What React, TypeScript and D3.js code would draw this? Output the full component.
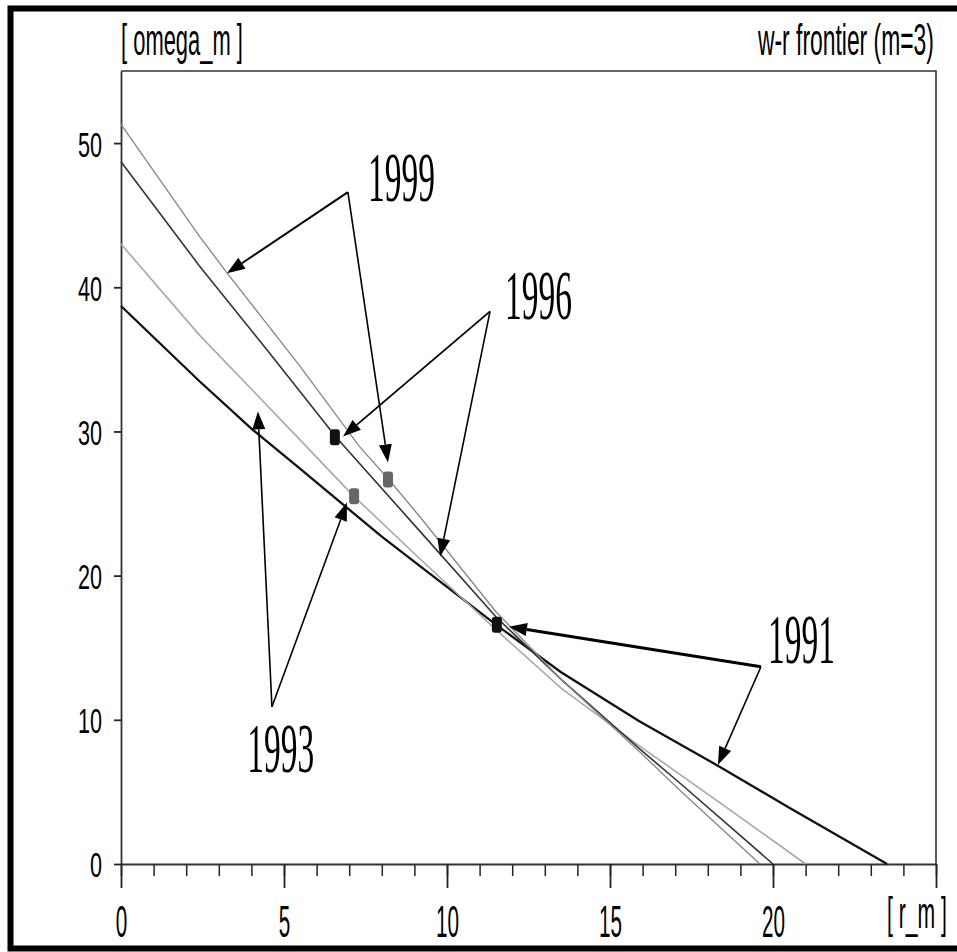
import React, { useRef, useEffect } from "react";
import * as d3 from "d3";

// axis ticks
const rTicks = [0, 5, 10, 15, 20, 25];
const rMinorTicks = d3.range(0, 26, 1);
const omegaTicks = [0, 10, 20, 30, 40, 50];

// frontier curves, one per year
const years = ["1991", "1993", "1996", "1999"];
const r1991 = [0, 2.4, 4.05, 5.5, 8, 11.5, 13.5, 15.9, 18.4, 20.5, 23.5];
const omega1991 = [38.7, 33.5, 30.1, 27.4, 22.7, 16.6, 13.3, 9.9, 6.7, 3.9, 0];
const r1993 = [0, 2.4, 5.5, 7.1, 9.2, 11.5, 13.5, 15.9, 18.4, 21.0];
const omega1993 = [43.0, 36.7, 29.4, 25.6, 21.1, 16.25, 12.2, 8.2, 4.2, 0];
const r1996 = [0, 2.4, 4.5, 6.6, 9.2, 11.5, 13.5, 15.9, 17.15, 20.0];
const omega1996 = [48.7, 41.5, 35.6, 29.6, 23.0, 17.15, 12.8, 8.0, 5.6, 0];
const r1999 = [0, 2.42, 3.25, 5.5, 7.3, 8.2, 9.2, 11.5, 13.5, 15.9, 17.15, 19.6];
const omega1999 = [51.3, 43.5, 41.0, 34.5, 29.0, 26.7, 24.0, 17.5, 12.8, 7.8, 5.1, 0];

// the point marked on each curve
const markerR = [11.53, 7.15, 6.56, 8.19];
const markerOmega = [16.6, 25.5, 29.6, 26.67];

// year callouts: text, elbow of the two arrows, arrow tips
const labelR = [19.85, 3.87, 11.78, 7.58];
const labelOmega = [13.96, 6.39, 37.78, 45.97];
const elbowR = [19.63, 4.63, 11.32, 6.96];
const elbowOmega = [13.68, 10.9, 38.33, 46.6];
const tipR = [[11.9, 18.31], [4.2, 6.93], [6.81, 9.79], [3.25, 8.19]];
const tipOmega = [[16.46, 6.875], [31.39, 25.07], [29.65, 21.32], [40.97, 27.85]];

export default function App() {
  const svgRef = useRef<SVGSVGElement>(null);

  useEffect(() => {
    const svg = d3.select(svgRef.current);
    svg.selectAll("*").remove();

    const width = 957;
    const height = 952;
    const margin = { top: 71, right: 21, bottom: 88, left: 121 };

    const x = d3.scaleLinear().domain([0, 25]).range([margin.left, width - margin.right]);
    const y = d3.scaleLinear().domain([0, 55]).range([height - margin.bottom, margin.top]);

    const sans = "'Liberation Sans', Arial, sans-serif";
    const serif = "'Liberation Serif', 'Times New Roman', serif";

    // squeezed text: measure, then scale to the wanted width
    function narrowText(str: string, left: number, base: number, w: number, size: number, family: string) {
      const t = svg.append("text")
        .attr("font-family", family).attr("font-size", size)
        .attr("fill", "black")
        .text(str);
      const natural = (t.node() as SVGTextElement).getComputedTextLength();
      t.attr("transform", `translate(${left},${base}) scale(${w / natural},1)`);
      return t;
    }

    // outer frame
    svg.append("rect")
      .attr("x", 10.5).attr("y", 8.5)
      .attr("width", 952).attr("height", 940)
      .attr("fill", "white").attr("stroke", "black").attr("stroke-width", 6);

    // plot box top + right
    svg.append("path")
      .attr("d", `M${x(0)},${y(55)}H${x(25)}V${y(0)}`)
      .attr("fill", "none").attr("stroke", "#333").attr("stroke-width", 1.6);

    // minor x ticks
    const xMinor = svg.append("g")
      .attr("transform", `translate(0,${y(0)})`)
      .call(d3.axisBottom(x).tickValues(rMinorTicks).tickSize(12).tickSizeOuter(0).tickFormat(() => ""));
    xMinor.select(".domain").remove();
    xMinor.selectAll("line").attr("stroke", "#222").attr("stroke-width", 1.5);

    // major x ticks
    const xAxis = svg.append("g")
      .attr("transform", `translate(0,${y(0)})`)
      .call(d3.axisBottom(x).tickValues(rTicks).tickSize(24).tickSizeOuter(0)
        .tickFormat((d) => (d === 25 ? "" : String(d))));
    xAxis.select(".domain").attr("stroke", "#333").attr("stroke-width", 1.8);
    xAxis.selectAll("line").attr("stroke", "#222").attr("stroke-width", 1.8);
    xAxis.selectAll("text")
      .attr("y", 73).attr("dy", 0)
      .attr("transform", "scale(0.47,1)")
      .attr("font-family", sans).attr("font-size", 44).attr("fill", "black");

    // y axis
    const yAxis = svg.append("g")
      .attr("transform", `translate(${x(0)},0)`)
      .call(d3.axisLeft(y).tickValues(omegaTicks).tickSize(7).tickSizeOuter(0));
    yAxis.select(".domain").attr("stroke", "#333").attr("stroke-width", 1.8);
    yAxis.selectAll("line").attr("stroke", "#222").attr("stroke-width", 1.8);
    yAxis.selectAll("text")
      .attr("x", -19 / 0.6).attr("dy", "0.36em")
      .attr("transform", "scale(0.6,1)")
      .attr("font-family", sans).attr("font-size", 36).attr("fill", "black");
    svg.selectAll(".tick line").attr("stroke-linecap", "butt");

    // axis titles
    narrowText("[ omega_m ]", x(0), 55, 122, 44, sans);
    narrowText("w-r frontier (m=3)", 758, 55, 176, 44, sans);
    narrowText("[ r_m ]", 887, 928, 60, 44, sans);

    // curves
    const series = [
      { r: r1991, w: omega1991, color: "#111", sw: 2.3 },
      { r: r1993, w: omega1993, color: "#a8a8a8", sw: 1.6 },
      { r: r1996, w: omega1996, color: "#333", sw: 1.6 },
      { r: r1999, w: omega1999, color: "#8a8a8a", sw: 1.4 },
    ];
    const lineGen = d3.line<[number, number]>()
      .x((d) => x(d[0]))
      .y((d) => y(d[1]));

    svg.selectAll(".curve")
      .data(series)
      .join("path")
      .attr("class", "curve")
      .attr("d", (s) => lineGen(s.r.map((v, i) => [v, s.w[i]] as [number, number])))
      .attr("fill", "none")
      .attr("stroke", (s) => s.color)
      .attr("stroke-width", (s) => s.sw);

    // markers
    const markerColor = ["#111", "#666", "#111", "#666"];
    svg.selectAll(".marker")
      .data(years)
      .join("rect")
      .attr("class", "marker")
      .attr("x", (d, i) => x(markerR[i]) - 5)
      .attr("y", (d, i) => y(markerOmega[i]) - 8)
      .attr("width", 10).attr("height", 16)
      .attr("rx", 3)
      .attr("fill", (d, i) => markerColor[i]);

    // callouts
    const arrowWidths = [[3, 1.6], [1.6, 1.6], [1.8, 1.6], [2, 1.6]];
    years.forEach((year, i) => {
      const ex = x(elbowR[i]);
      const ey = y(elbowOmega[i]);
      tipR[i].forEach((tr, j) => {
        const tx = x(tr);
        const ty = y(tipOmega[i][j]);
        const len = Math.hypot(tx - ex, ty - ey);
        const ux = (tx - ex) / len;
        const uy = (ty - ey) / len;
        const headLen = 18;
        const headW = 6.5;
        const bx = tx - ux * headLen;
        const by = ty - uy * headLen;
        svg.append("line")
          .attr("x1", ex).attr("y1", ey)
          .attr("x2", bx).attr("y2", by)
          .attr("stroke", "black").attr("stroke-width", arrowWidths[i][j]);
        svg.append("polygon")
          .attr("points", [
            [tx, ty],
            [bx - uy * headW, by + ux * headW],
            [bx + uy * headW, by - ux * headW],
          ].map((p) => p.join(",")).join(" "))
          .attr("fill", "black");
      });
      narrowText(year, x(labelR[i]), y(labelOmega[i]), 67, 70, serif);
    });
  }, []);

  return (
    <div style={{ position: "absolute", left: 0, top: 0 }}>
      <svg ref={svgRef} width={957} height={952} style={{ display: "block" }} />
    </div>
  );
}
